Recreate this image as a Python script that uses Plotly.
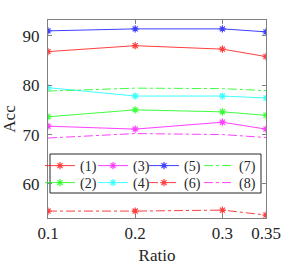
import plotly.graph_objects as go

ratios = [0.1, 0.2, 0.3, 0.35]
tick_vals = [0.1, 0.2, 0.3, 0.35]
tick_text = ["0.1", "0.2", "0.3", "0.35"]

s1 = [86.8, 88.0, 87.3, 85.8]
s2 = [73.6, 75.0, 74.6, 73.9]
s3 = [71.7, 71.1, 72.5, 71.1]
s4 = [79.5, 77.8, 77.8, 77.4]
s5 = [91.0, 91.4, 91.4, 90.8]
s6 = [54.5, 54.5, 54.7, 53.7]
s7 = [78.8, 79.4, 79.3, 78.9]
s8 = [69.3, 70.2, 70.0, 69.4]

# name, values, colour, dash, markers, legend column, legend row
series = [
    ("(1)", s1, "#ff0000", "solid", True, 0, 0),
    ("(2)", s2, "#00ff00", "solid", True, 0, 1),
    ("(3)", s3, "#ff00ff", "solid", True, 1, 0),
    ("(4)", s4, "#00ffff", "solid", True, 1, 1),
    ("(5)", s5, "#0000ff", "solid", True, 2, 0),
    ("(6)", s6, "#ff0000", "dashdot", True, 2, 1),
    ("(7)", s7, "#00ff00", "dashdot", False, 3, 0),
    ("(8)", s8, "#ff00ff", "dashdot", False, 3, 1),
]

font = "Liberation Serif"
W = 218.0
H = 198.0
L = 48.0
B = 218.0
col_px = [40, 93, 144, 199]
row_px = [150, 167]

fig = go.Figure()
legends = {}
for i, (name, ys, col, dash, mk, c, r) in enumerate(series):
    key = "legend" if i == 0 else "legend%d" % (i + 1)
    fig.add_trace(go.Scatter(
        x=ratios, y=ys, name=name, legend=key,
        mode="lines+markers" if mk else "lines",
        line=dict(color=col, width=1, dash=dash),
        marker=dict(symbol="asterisk-open", size=6, color=col, line=dict(color=col, width=1.2)),
        opacity=0.75,
    ))
    legends[key] = dict(
        orientation="v", x=(col_px[c] - L) / W, y=(B - row_px[r]) / H,
        xanchor="left", yanchor="top",
        bgcolor="rgba(0,0,0,0)", borderwidth=0,
        font=dict(family=font, size=14, color="#262626"),
        itemwidth=30,
    )

fig.update_layout(
    width=294, height=268,
    margin=dict(l=48, r=28, t=20, b=50, autoexpand=False),
    paper_bgcolor="white", plot_bgcolor="white",
    font=dict(family=font, size=17, color="#262626"),
    showlegend=True,
    shapes=[dict(
        type="rect", xref="paper", yref="paper", layer="below",
        x0=(50 - L) / W, x1=(261 - L) / W, y0=(B - 193) / H, y1=(B - 154) / H,
        line=dict(color="#262626", width=1), fillcolor="white",
    )],
    xaxis=dict(
        range=[0.1, 0.35], tickvals=tick_vals, ticktext=tick_text,
        showgrid=False, zeroline=False, showline=True, mirror="ticks",
        linecolor="#808080", linewidth=1, ticks="inside", ticklen=4,
        tickcolor="#808080", automargin=False,
        title=dict(text="Ratio", font=dict(family=font, size=17), standoff=6),
    ),
    yaxis=dict(
        range=[53.1, 93.2], tickvals=[60, 70, 80, 90],
        showgrid=False, zeroline=False, showline=True, mirror="ticks",
        linecolor="#808080", linewidth=1, ticks="inside", ticklen=4,
        tickcolor="#808080", ticklabelstandoff=4, automargin=False,
        title=dict(text="Acc", font=dict(family=font, size=17), standoff=8),
    ),
)
fig.update_layout(**legends)

fig.write_html("out.html", config={"displayModeBar": False},
               post_script="document.body.style.margin='0';")
